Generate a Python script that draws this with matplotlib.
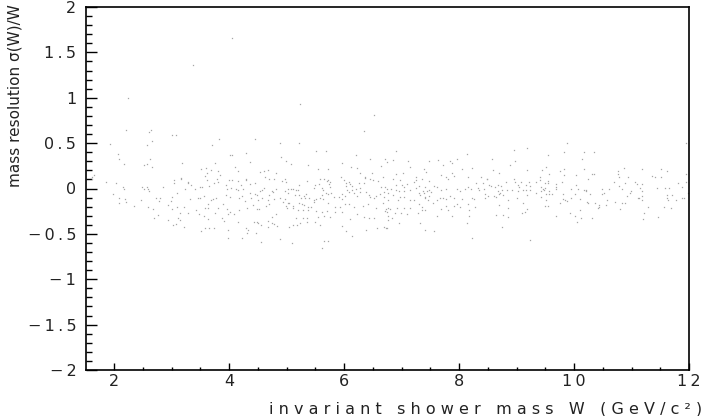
import matplotlib
matplotlib.use('Agg')
import matplotlib.pyplot as plt
from matplotlib.ticker import FixedLocator, MultipleLocator, FixedFormatter
import numpy as np

# points, (W, sigma(W)/W), grouped by W range
outliers = [(4.05, 1.66), (3.37, 1.36), (2.24, 1.00), (5.23, 0.93), (1.62, 0.13)]

pts_w15_33 = [
    (2.21, 0.64), (2.60, 0.62), (2.65, 0.65), (3.01, 0.59), (3.08, 0.59), (1.93, 0.49),
    (2.58, 0.48), (2.66, 0.52), (2.07, 0.38), (2.09, 0.32), (2.17, 0.27), (2.53, 0.26),
    (2.58, 0.27), (2.62, 0.32), (2.66, 0.24), (3.18, 0.28), (1.65, 0.15), (1.62, 0.11),
    (1.86, 0.07), (2.03, 0.06), (2.16, 0.02), (2.17, -0.01), (2.48, 0.02), (2.52, -0.01),
    (2.58, 0.02), (2.59, -0.01), (2.60, -0.03), (2.86, 0.02), (3.05, 0.09), (3.04, 0.06),
    (3.16, 0.12), (3.17, 0.10), (3.28, 0.07), (3.24, -0.01), (3.10, -0.05), (1.99, -0.06),
    (2.09, -0.11), (2.08, -0.16), (2.19, -0.12), (2.21, -0.15), (2.34, -0.19), (2.47, -0.13),
    (2.73, -0.11), (2.79, -0.14), (2.80, -0.10), (2.59, -0.20), (2.67, -0.23), (2.70, -0.33),
    (2.77, -0.29), (2.94, -0.18), (2.99, -0.14), (3.01, -0.23), (3.00, -0.09), (3.10, -0.20),
    (3.22, -0.20), (3.14, -0.27), (3.28, -0.27), (3.11, -0.33), (3.14, -0.35), (3.07, -0.39),
    (3.03, -0.40), (3.22, -0.42), (2.94, -0.35),
]

pts_w33_50 = [
    (3.83, 0.54), (4.46, 0.55), (4.89, 0.50), (3.70, 0.48), (4.01, 0.37), (4.05, 0.37),
    (4.30, 0.39), (4.91, 0.35), (4.99, 0.30), (4.37, 0.29), (3.76, 0.28), (4.11, 0.24),
    (4.16, 0.19), (3.51, 0.22), (3.60, 0.23), (3.61, 0.17), (3.68, 0.20), (3.80, 0.19),
    (3.85, 0.15), (3.59, 0.14), (3.29, 0.06), (3.34, 0.04), (3.40, 0.00), (3.50, 0.02),
    (3.53, 0.02), (3.62, 0.09), (3.65, 0.03), (3.74, 0.06), (3.79, 0.11), (3.81, 0.07),
    (3.94, 0.04), (4.00, 0.09), (4.06, 0.09), (4.15, 0.08), (4.30, 0.11), (4.30, 0.09),
    (4.36, 0.05), (4.45, 0.06), (4.54, 0.18), (4.60, 0.19), (4.67, 0.20), (4.62, 0.13),
    (4.70, 0.11), (4.79, 0.10), (4.82, 0.17), (4.97, 0.10), (4.92, 0.08), (4.99, 0.07),
    (3.97, -0.01), (4.03, 0.01), (4.12, 0.00), (4.16, -0.02), (4.25, -0.01), (4.20, 0.04),
    (4.37, -0.05), (4.45, -0.06), (4.49, -0.07), (4.54, -0.03), (4.58, -0.02), (4.60, 0.01),
    (4.70, -0.07), (4.74, -0.03), (4.77, -0.04), (4.81, 0.00), (4.97, -0.03), (5.03, -0.01),
    (4.89, -0.11), (4.97, -0.12), (4.67, -0.13), (4.78, -0.12), (3.33, -0.12), (3.46, -0.10),
    (3.50, -0.10), (3.56, -0.08), (3.68, -0.13), (3.72, -0.12), (3.77, -0.11), (3.89, -0.17),
    (3.95, -0.07), (4.02, -0.09), (4.18, -0.10), (4.23, -0.08), (4.27, -0.14), (4.39, -0.11),
    (4.50, -0.13), (4.58, -0.10), (4.41, -0.18), (4.48, -0.23), (4.53, -0.23), (4.64, -0.19),
    (4.69, -0.17), (4.94, -0.15), (4.99, -0.19), (5.01, -0.21), (4.31, -0.21), (4.18, -0.24),
    (4.01, -0.26), (3.96, -0.23), (3.81, -0.22), (3.63, -0.17), (3.64, -0.21), (3.59, -0.21),
    (3.42, -0.24), (3.47, -0.28), (3.56, -0.30), (3.63, -0.34), (3.76, -0.27), (3.87, -0.33),
    (3.92, -0.36), (3.98, -0.28), (4.09, -0.28), (4.75, -0.31), (4.82, -0.28), (4.74, -0.38),
    (4.79, -0.39), (4.84, -0.41), (4.67, -0.42), (4.68, -0.36), (4.49, -0.37), (4.44, -0.37),
    (4.50, -0.38), (4.55, -0.40), (4.16, -0.37), (3.58, -0.43), (3.66, -0.43), (3.74, -0.43),
    (3.51, -0.47), (3.99, -0.46), (4.30, -0.44), (4.33, -0.46), (4.32, -0.49), (4.47, -0.49),
    (4.23, -0.55), (3.98, -0.55), (4.56, -0.59), (4.89, -0.56),
]

pts_w50_67 = [
    (6.52, 0.81), (6.34, 0.63), (5.22, 0.50), (5.69, 0.41), (5.52, 0.41), (6.20, 0.37),
    (6.72, 0.32), (6.75, 0.29), (5.97, 0.28), (6.12, 0.24), (6.22, 0.23), (6.46, 0.33),
    (6.64, 0.25), (5.08, 0.27), (5.37, 0.26), (5.55, 0.22), (5.73, 0.22), (6.27, 0.17),
    (6.49, 0.17), (6.67, 0.13), (5.94, 0.13), (6.36, 0.12), (5.58, 0.11), (5.66, 0.10),
    (5.73, 0.09), (5.75, 0.07), (5.35, 0.08), (5.22, 0.04), (5.50, 0.04), (5.57, 0.05),
    (5.47, 0.01), (5.62, 0.01), (5.63, -0.02), (5.71, 0.08), (5.74, 0.05), (5.76, 0.02),
    (6.00, 0.09), (6.03, 0.06), (6.08, 0.07), (6.03, 0.03), (6.10, 0.05), (6.14, 0.03),
    (6.20, 0.00), (6.26, 0.06), (6.28, 0.01), (6.35, 0.06), (6.37, 0.13), (6.45, 0.10),
    (6.50, 0.09), (6.59, 0.08), (6.64, 0.02), (6.71, 0.02), (6.74, 0.00), (5.07, 0.00),
    (5.12, 0.00), (5.16, -0.02), (5.03, -0.05), (5.14, -0.07), (5.20, -0.02), (5.22, -0.07),
    (5.31, -0.08), (5.34, -0.06), (5.26, -0.11), (5.32, -0.11), (5.39, -0.11), (5.48, -0.13),
    (5.52, -0.12), (5.58, -0.11), (5.61, -0.07), (5.63, -0.12), (5.68, -0.05), (5.72, -0.06),
    (5.77, -0.05), (5.83, -0.09), (5.92, -0.09), (5.96, -0.06), (5.96, -0.12), (6.02, -0.08),
    (6.06, -0.02), (6.09, -0.04), (6.14, -0.02), (6.17, -0.05), (6.23, -0.08), (6.27, -0.04),
    (6.38, -0.04), (6.43, -0.07), (6.45, -0.09), (6.52, -0.10), (6.56, -0.08), (6.63, -0.06),
    (6.70, -0.04), (6.70, -0.09), (5.02, -0.16), (5.05, -0.16), (5.11, -0.19), (5.22, -0.16),
    (5.27, -0.17), (5.31, -0.18), (5.37, -0.20), (5.43, -0.20), (5.48, -0.15), (5.72, -0.16),
    (5.84, -0.20), (5.93, -0.20), (6.02, -0.17), (6.09, -0.17), (6.18, -0.20), (6.33, -0.19),
    (6.42, -0.17), (6.56, -0.22), (6.68, -0.16), (6.76, -0.22), (5.12, -0.21), (5.20, -0.24),
    (5.28, -0.24), (5.38, -0.24), (5.51, -0.25), (5.61, -0.26), (5.71, -0.25), (5.85, -0.26),
    (5.96, -0.26), (5.17, -0.33), (5.23, -0.38), (5.29, -0.32), (5.36, -0.33), (5.55, -0.31),
    (5.66, -0.30), (5.76, -0.31), (6.11, -0.34), (6.22, -0.28), (6.34, -0.31), (6.44, -0.33),
    (6.53, -0.32), (6.71, -0.25), (6.77, -0.35), (5.04, -0.42), (5.11, -0.40), (5.18, -0.40),
    (5.36, -0.37), (5.50, -0.37), (5.58, -0.40), (5.96, -0.41), (6.04, -0.47), (6.14, -0.52),
    (6.39, -0.46), (6.58, -0.44), (6.69, -0.42), (6.73, -0.43), (5.66, -0.58), (5.72, -0.58),
    (5.09, -0.60), (5.62, -0.66),
]

pts_w67_85 = [
    (6.91, 0.41), (7.48, 0.30), (7.64, 0.31), (7.11, 0.30), (6.86, 0.31), (7.96, 0.33),
    (8.14, 0.38), (7.84, 0.30), (7.88, 0.28), (7.72, 0.26), (7.15, 0.24), (8.06, 0.22),
    (8.23, 0.23), (7.39, 0.21), (7.43, 0.18), (7.03, 0.17), (6.91, 0.16), (7.69, 0.15),
    (7.78, 0.13), (7.88, 0.17), (7.92, 0.14), (8.16, 0.13), (7.81, 0.11), (8.39, 0.13),
    (8.48, 0.10), (6.85, 0.10), (6.97, 0.09), (7.26, 0.13), (7.26, 0.09), (7.35, 0.10),
    (7.47, 0.08), (7.21, 0.07), (7.10, 0.05), (6.91, 0.04), (7.00, 0.04), (7.04, 0.02),
    (6.91, -0.02), (6.82, 0.00), (6.96, -0.03), (7.05, -0.03), (7.15, -0.02), (7.26, 0.01),
    (7.31, 0.03), (7.41, 0.02), (7.56, 0.03), (7.62, 0.02), (7.47, -0.02), (7.37, -0.03),
    (7.44, -0.03), (7.51, -0.04), (7.31, -0.05), (7.33, -0.07), (7.39, -0.05), (7.47, -0.08),
    (7.40, -0.09), (7.68, -0.02), (7.77, 0.00), (7.84, -0.08), (7.97, 0.00), (8.01, -0.03),
    (8.10, -0.01), (8.15, 0.02), (8.20, -0.01), (8.33, 0.01), (8.41, 0.06), (8.43, 0.00),
    (8.30, 0.06), (8.46, -0.06), (8.46, -0.10), (8.35, -0.02), (6.76, -0.05), (6.86, -0.07),
    (6.97, -0.09), (7.04, -0.09), (7.15, -0.13), (6.77, -0.13), (6.94, -0.13), (7.21, -0.13),
    (7.40, -0.10), (7.46, -0.13), (7.62, -0.13), (7.67, -0.11), (7.72, -0.10), (7.77, -0.12),
    (7.92, -0.10), (8.06, -0.12), (8.22, -0.11), (8.26, -0.12), (7.96, -0.17), (8.01, -0.20),
    (8.16, -0.17), (8.27, -0.20), (6.73, -0.23), (6.74, -0.26), (6.80, -0.23), (6.93, -0.21),
    (7.05, -0.22), (7.14, -0.22), (7.31, -0.17), (7.35, -0.20), (7.40, -0.24), (7.54, -0.16),
    (7.69, -0.23), (7.77, -0.19), (7.80, -0.24), (7.92, -0.19), (8.18, -0.24), (6.76, -0.30),
    (6.89, -0.27), (6.99, -0.27), (7.09, -0.28), (7.29, -0.27), (7.35, -0.24), (7.62, -0.30),
    (7.87, -0.30), (8.18, -0.30), (6.83, -0.33), (6.96, -0.38), (7.32, -0.38), (8.14, -0.38),
    (6.75, -0.43), (7.40, -0.46), (7.56, -0.47), (8.22, -0.55),
]

pts_w85_102 = [
    (9.87, 0.50), (9.19, 0.45), (8.96, 0.42), (9.82, 0.40), (10.18, 0.40), (9.55, 0.37),
    (8.58, 0.33), (10.14, 0.32), (8.88, 0.26), (8.97, 0.30), (9.51, 0.24), (9.82, 0.22),
    (10.18, 0.22), (8.59, 0.20), (8.70, 0.17), (9.19, 0.20), (9.44, 0.20), (9.57, 0.16),
    (9.75, 0.19), (9.83, 0.15), (10.04, 0.15), (9.40, 0.13), (8.96, 0.10), (8.48, 0.10),
    (8.81, 0.07), (8.98, 0.07), (9.08, 0.07), (9.21, 0.07), (9.34, 0.07), (9.41, 0.09),
    (9.55, 0.08), (9.50, 0.06), (9.68, 0.05), (9.79, 0.07), (10.03, 0.04), (8.53, 0.04),
    (8.56, 0.03), (8.63, 0.02), (8.68, 0.04), (8.73, 0.03), (9.03, 0.04), (9.04, 0.02),
    (9.17, 0.04), (9.23, 0.03), (9.42, 0.02), (9.46, 0.00), (9.49, 0.01), (9.54, 0.06),
    (9.69, 0.02), (8.68, -0.03), (8.75, -0.02), (8.84, -0.02), (8.92, -0.02), (9.02, -0.03),
    (9.12, -0.02), (9.17, -0.02), (9.23, -0.02), (9.34, -0.05), (9.43, -0.03), (9.47, -0.02),
    (9.57, -0.03), (9.69, -0.01), (9.80, -0.06), (9.94, -0.01), (10.07, 0.00), (10.17, -0.02),
    (10.21, -0.02), (8.51, -0.08), (8.60, -0.08), (8.64, -0.09), (8.69, -0.06), (8.72, -0.05),
    (8.76, -0.07), (9.01, -0.11), (9.19, -0.07), (9.51, -0.06), (9.57, -0.06), (9.61, -0.06),
    (9.80, -0.12), (9.84, -0.13), (9.87, -0.14), (9.94, -0.10), (10.01, -0.06), (10.10, -0.12),
    (10.23, -0.15), (9.43, -0.09), (9.52, -0.13), (8.85, -0.13), (8.70, -0.18), (9.11, -0.16),
    (9.50, -0.19), (9.55, -0.19), (9.76, -0.16), (8.86, -0.22), (9.14, -0.26), (9.19, -0.23),
    (8.64, -0.29), (8.77, -0.29), (8.86, -0.31), (9.09, -0.27), (9.69, -0.30), (9.93, -0.27),
    (10.02, -0.30), (10.10, -0.24), (10.13, -0.33), (10.06, -0.37), (8.74, -0.42), (9.24, -0.57),
]

pts_w102_12 = [
    (11.94, 0.50), (10.35, 0.40), (11.19, 0.22), (11.52, 0.22), (11.62, 0.19), (10.77, 0.19),
    (10.87, 0.23), (10.32, 0.16), (10.35, 0.16), (10.25, 0.11), (10.77, 0.16), (10.79, 0.13),
    (10.94, 0.13), (11.35, 0.14), (11.41, 0.13), (11.52, 0.13), (11.95, 0.16), (10.70, 0.07),
    (10.88, 0.06), (11.06, 0.07), (11.09, 0.05), (11.18, 0.05), (10.79, 0.03), (11.15, 0.01),
    (11.45, 0.01), (11.59, 0.01), (11.66, 0.01), (11.80, 0.06), (11.87, 0.02), (11.95, 0.07),
    (10.21, -0.03), (10.48, 0.00), (10.61, 0.00), (10.83, -0.01), (10.99, -0.03), (11.18, -0.03),
    (10.27, -0.06), (10.49, -0.06), (10.53, -0.05), (10.92, -0.08), (10.97, -0.05), (11.13, -0.10),
    (11.11, -0.11), (11.18, -0.08), (11.18, -0.13), (11.61, -0.07), (11.71, -0.07), (11.61, -0.11),
    (11.63, -0.13), (11.77, -0.13), (11.87, -0.11), (11.92, -0.11), (11.98, -0.05), (10.24, -0.16),
    (10.37, -0.16), (10.43, -0.18), (10.55, -0.18), (10.57, -0.13), (10.72, -0.15), (10.83, -0.16),
    (10.88, -0.16), (10.41, -0.21), (10.44, -0.20), (11.28, -0.20), (11.57, -0.20), (11.69, -0.21),
    (10.80, -0.23), (11.22, -0.27), (11.46, -0.31), (10.31, -0.33), (11.20, -0.34),
]

x_ticks = [2, 4, 6, 8, 10, 12]
y_ticks = [-2, -1.5, -1, -0.5, 0, 0.5, 1, 1.5, 2]

all_pts = np.array(outliers + pts_w15_33 + pts_w33_50 + pts_w50_67
                   + pts_w67_85 + pts_w85_102 + pts_w102_12)

def spaced(v):
    # PAW style labels: wide letter spacing, real minus sign
    s = f'{v:g}'.replace('-', '\u2212')
    return '\u2009'.join(s)

fig = plt.figure(figsize=(7.04, 4.16), dpi=100, facecolor='white')
ax = fig.add_axes([86 / 704, 46 / 416, 603 / 704, 363 / 416])

ax.plot(all_pts[:, 0], all_pts[:, 1], linestyle='none', marker='s',
        markersize=0.9, markeredgewidth=0, color='#a6a6a6')

ax.set_xlim(1.513, 12)
ax.set_ylim(-2, 2)

ax.xaxis.set_major_locator(FixedLocator(x_ticks))
ax.xaxis.set_major_formatter(FixedFormatter([spaced(v) for v in x_ticks]))
ax.xaxis.set_minor_locator(MultipleLocator(0.5))
ax.yaxis.set_major_locator(FixedLocator(y_ticks))
ax.yaxis.set_major_formatter(FixedFormatter([spaced(v) for v in y_ticks]))
ax.yaxis.set_minor_locator(MultipleLocator(0.1))

ax.tick_params(axis='both', which='both', direction='in', top=False, right=False,
               labelsize=11.5, labelcolor='#222222', color='black', width=1.0)
ax.tick_params(axis='y', which='major', length=8, pad=7)
ax.tick_params(axis='y', which='minor', length=4)
ax.tick_params(axis='x', which='major', length=5, pad=3)
ax.tick_params(axis='x', which='minor', length=2.5)

for sp in ax.spines.values():
    sp.set_linewidth(1.2)
    sp.set_color('black')

fig.text(15 / 704, 1 - 4 / 416, 'mass resolution \u03c3(W)/W', rotation=90,
         ha='center', va='top', fontsize=11, color='#222222')
fig.text(702 / 704, 1 - 409 / 416, ' '.join('invariant shower mass W (GeV/c\u00b2)'),
         ha='right', va='center', fontsize=11.5, color='#222222')

fig.savefig('out.png', dpi=100, facecolor='white')
